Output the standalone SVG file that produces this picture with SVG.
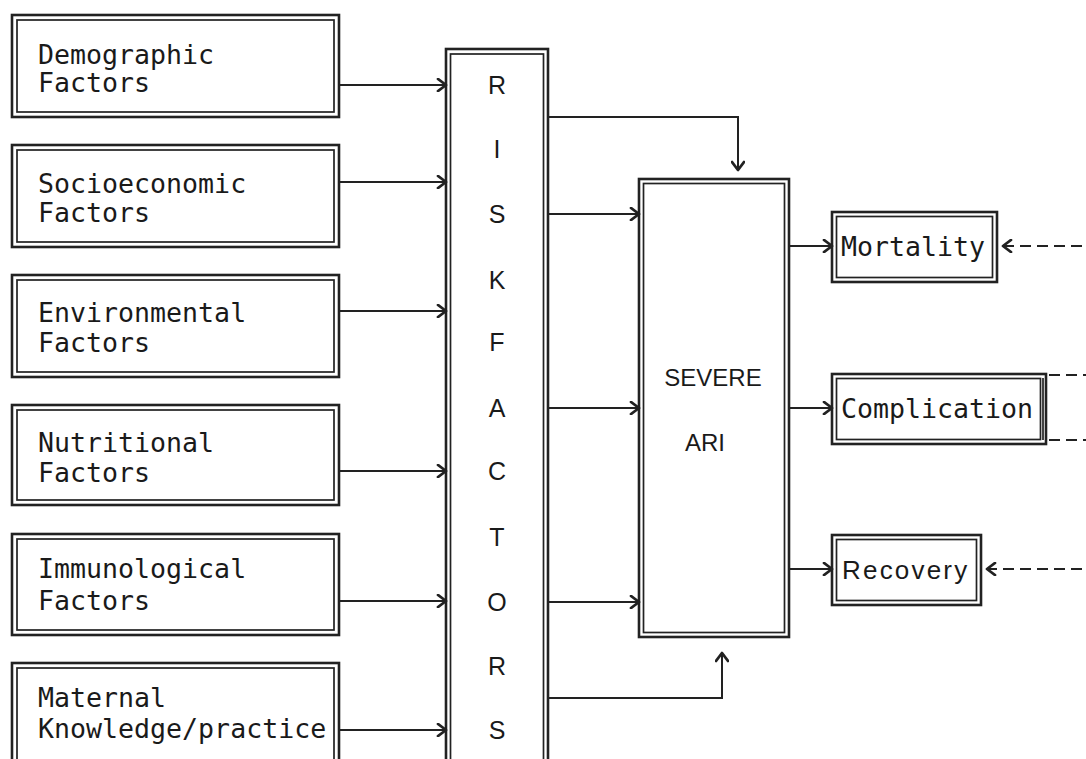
<svg xmlns="http://www.w3.org/2000/svg" width="1086" height="759" viewBox="0 0 1086 759">
<style>
.o{fill:none;stroke:#222;stroke-width:2.6}
.i{fill:none;stroke:#222;stroke-width:1.7}
.m{font-family:"DejaVu Sans Mono","Liberation Mono",monospace;font-size:26.6px;fill:#1a1a1a}
.s{font-family:"Liberation Sans",Arial,sans-serif;fill:#1a1a1a}
.c{fill:none;stroke:#222;stroke-width:2}
.d{fill:none;stroke:#222;stroke-width:2;stroke-dasharray:11 6}
.h{fill:none;stroke:#222;stroke-width:2.8;stroke-linecap:round;stroke-linejoin:round}
</style>
<defs>
<marker id="a" markerWidth="14" markerHeight="14" refX="11" refY="7" orient="auto" markerUnits="userSpaceOnUse">
<path d="M3,1 L11,7 L3,13" class="h"/>
</marker>
</defs>
<rect width="1086" height="759" fill="#fff"/>

<g id="demographic">
<rect class="o" x="12" y="15" width="327" height="102"/>
<rect class="i" x="17" y="20" width="317" height="92"/>
<text class="m" x="38" y="64">Demographic</text>
<text class="m" x="38" y="92">Factors</text>
</g>
<g id="socioeconomic">
<rect class="o" x="12" y="145" width="327" height="102"/>
<rect class="i" x="17" y="150" width="317" height="92"/>
<text class="m" x="38" y="193">Socioeconomic</text>
<text class="m" x="38" y="222">Factors</text>
</g>
<g id="environmental">
<rect class="o" x="12" y="275" width="327" height="102"/>
<rect class="i" x="17" y="280" width="317" height="92"/>
<text class="m" x="38" y="322">Environmental</text>
<text class="m" x="38" y="352">Factors</text>
</g>
<g id="nutritional">
<rect class="o" x="12" y="405" width="327" height="100"/>
<rect class="i" x="17" y="410" width="317" height="90"/>
<text class="m" x="38" y="452">Nutritional</text>
<text class="m" x="38" y="482">Factors</text>
</g>
<g id="immunological">
<rect class="o" x="12" y="534" width="327" height="101"/>
<rect class="i" x="17" y="539" width="317" height="91"/>
<text class="m" x="38" y="578">Immunological</text>
<text class="m" x="38" y="610">Factors</text>
</g>
<g id="maternal">
<rect class="o" x="12" y="663" width="327" height="110"/>
<rect class="i" x="17" y="668" width="317" height="100"/>
<text class="m" x="38" y="707">Maternal</text>
<text class="m" x="38" y="738">Knowledge/practice</text>
</g>

<g id="risk-factors">
<rect class="o" x="446" y="49" width="102" height="730"/>
<rect class="i" x="450.5" y="54" width="93" height="720"/>
<g class="s" font-size="25" text-anchor="middle">
<text x="497" y="94">R</text>
<text x="497" y="158">I</text>
<text x="497" y="223">S</text>
<text x="497" y="289">K</text>
<text x="497" y="351">F</text>
<text x="497" y="417">A</text>
<text x="497" y="480">C</text>
<text x="497" y="546">T</text>
<text x="497" y="611">O</text>
<text x="497" y="675">R</text>
<text x="497" y="739">S</text>
</g>
</g>

<g id="severe-ari">
<rect class="o" x="639" y="179" width="150" height="458"/>
<rect class="i" x="643.5" y="183.5" width="141" height="449"/>
<text class="s" font-size="24" x="713" y="386" text-anchor="middle">SEVERE</text>
<text class="s" font-size="24" x="705" y="451" text-anchor="middle">ARI</text>
</g>

<g id="mortality">
<rect class="o" x="832" y="212" width="165" height="70"/>
<rect class="i" x="836.5" y="216.5" width="156" height="61"/>
<text class="m" x="841" y="256">Mortality</text>
</g>
<g id="complication">
<rect class="o" x="832" y="374" width="214" height="70"/>
<rect class="i" x="836.5" y="378.5" width="204" height="61"/>
<line class="i" x1="1043" y1="378" x2="1043" y2="440"/>
<text class="m" x="841" y="418">Complication</text>
</g>
<g id="recovery">
<rect class="o" x="832" y="535" width="149" height="70"/>
<rect class="i" x="836.5" y="539.5" width="140" height="61"/>
<text class="s" font-size="26" letter-spacing="2.2" x="842" y="579">Recovery</text>
</g>

<g id="connectors">
<line class="c" x1="339" y1="85" x2="446" y2="85" marker-end="url(#a)"/>
<line class="c" x1="339" y1="182" x2="446" y2="182" marker-end="url(#a)"/>
<line class="c" x1="339" y1="311" x2="446" y2="311" marker-end="url(#a)"/>
<line class="c" x1="339" y1="471" x2="446" y2="471" marker-end="url(#a)"/>
<line class="c" x1="339" y1="601" x2="446" y2="601" marker-end="url(#a)"/>
<line class="c" x1="339" y1="730" x2="446" y2="730" marker-end="url(#a)"/>

<polyline class="c" points="548,117 738,117 738,170" marker-end="url(#a)"/>
<polyline class="c" points="548,698 722,698 722,653" marker-end="url(#a)"/>
<line class="c" x1="548" y1="214" x2="639" y2="214" marker-end="url(#a)"/>
<line class="c" x1="548" y1="408" x2="639" y2="408" marker-end="url(#a)"/>
<line class="c" x1="548" y1="602" x2="639" y2="602" marker-end="url(#a)"/>

<line class="c" x1="789" y1="246" x2="832" y2="246" marker-end="url(#a)"/>
<line class="c" x1="789" y1="408" x2="832" y2="408" marker-end="url(#a)"/>
<line class="c" x1="789" y1="569" x2="832" y2="569" marker-end="url(#a)"/>

<line class="d" x1="1082" y1="246" x2="1003" y2="246" marker-end="url(#a)"/>
<line class="d" x1="1082" y1="569" x2="987" y2="569" marker-end="url(#a)"/>
<line class="d" x1="1049" y1="375" x2="1086" y2="375"/>
<line class="d" x1="1049" y1="440" x2="1086" y2="440" stroke-width="1" stroke="#888"/>
</g>
</svg>
